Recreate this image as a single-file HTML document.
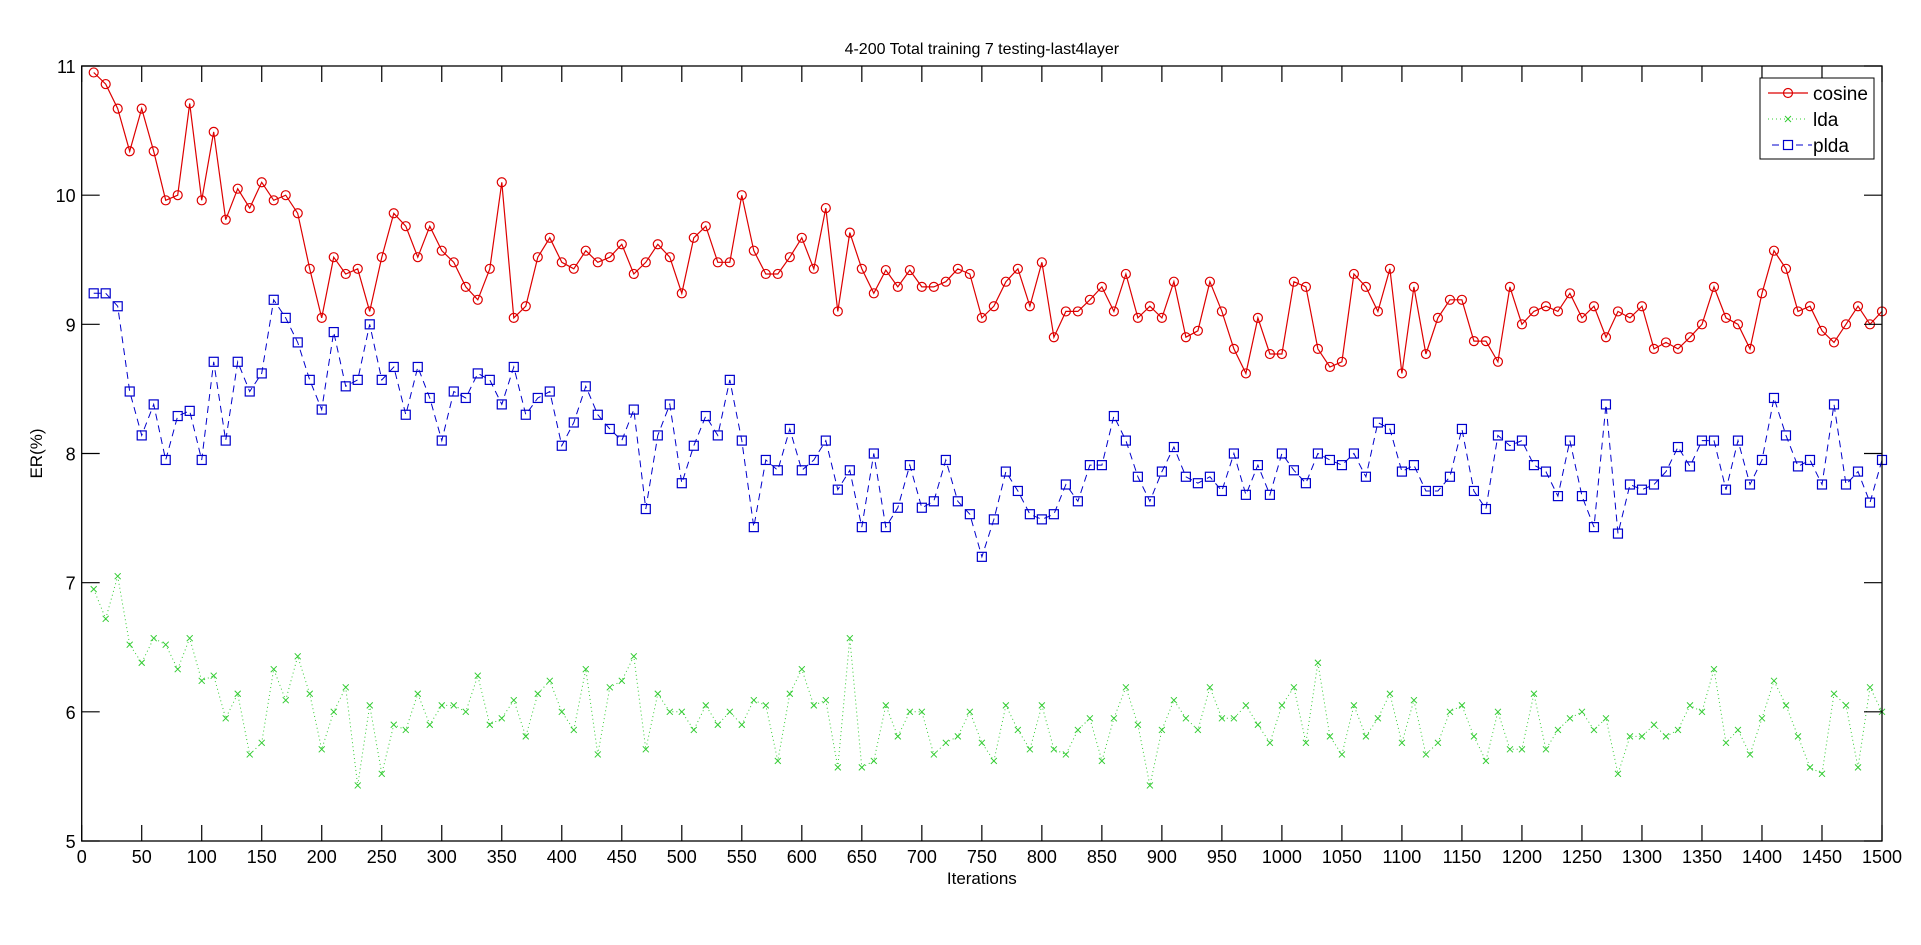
<!DOCTYPE html>
<html><head><meta charset="utf-8"><style>
html,body{margin:0;padding:0;background:#fff;}
svg{display:block;font-family:"Liberation Sans",Arial,sans-serif;}
</style></head><body>
<svg id="s" width="1921" height="945" xmlns="http://www.w3.org/2000/svg"></svg>
<script>
const cos=[10.95,10.86,10.67,10.34,10.67,10.34,9.96,10.0,10.71,9.96,10.49,9.81,10.05,9.9,10.1,9.96,10.0,9.86,9.43,9.05,9.52,9.39,9.43,9.1,9.52,9.86,9.76,9.52,9.76,9.57,
9.48,9.29,9.19,9.43,10.1,9.05,9.14,9.52,9.67,9.48,9.43,9.57,9.48,9.52,9.62,9.39,9.48,9.62,9.52,9.24,9.67,9.76,9.48,9.48,10.0,9.57,9.39,9.39,9.52,9.67,
9.43,9.9,9.1,9.71,9.43,9.24,9.42,9.29,9.42,9.29,9.29,9.33,9.43,9.39,9.05,9.14,9.33,9.43,9.14,9.48,8.9,9.1,9.1,9.19,9.29,9.1,9.39,9.05,9.14,9.05,
9.33,8.9,8.95,9.33,9.1,8.81,8.62,9.05,8.77,8.77,9.33,9.29,8.81,8.67,8.71,9.39,9.29,9.1,9.43,8.62,9.29,8.77,9.05,9.19,9.19,8.87,8.87,8.71,9.29,9.0,
9.1,9.14,9.1,9.24,9.05,9.14,8.9,9.1,9.05,9.14,8.81,8.86,8.81,8.9,9.0,9.29,9.05,9.0,8.81,9.24,9.57,9.43,9.1,9.14,8.95,8.86,9.0,9.14,9.0,9.1];
const plda=[9.24,9.24,9.14,8.48,8.14,8.38,7.95,8.29,8.33,7.95,8.71,8.1,8.71,8.48,8.62,9.19,9.05,8.86,8.57,8.34,8.94,8.52,8.57,9.0,8.57,8.67,8.3,8.67,8.43,8.1,
8.48,8.43,8.62,8.57,8.38,8.67,8.3,8.43,8.48,8.06,8.24,8.52,8.3,8.19,8.1,8.34,7.57,8.14,8.38,7.77,8.06,8.29,8.14,8.57,8.1,7.43,7.95,7.87,8.19,7.87,
7.95,8.1,7.72,7.87,7.43,8.0,7.43,7.58,7.91,7.58,7.63,7.95,7.63,7.53,7.2,7.49,7.86,7.71,7.53,7.49,7.53,7.76,7.63,7.91,7.91,8.29,8.1,7.82,7.63,7.86,
8.05,7.82,7.77,7.82,7.71,8.0,7.68,7.91,7.68,8.0,7.87,7.77,8.0,7.95,7.91,8.0,7.82,8.24,8.19,7.86,7.91,7.71,7.71,7.82,8.19,7.71,7.57,8.14,8.06,8.1,
7.91,7.86,7.67,8.1,7.67,7.43,8.38,7.38,7.76,7.72,7.76,7.86,8.05,7.9,8.1,8.1,7.72,8.1,7.76,7.95,8.43,8.14,7.9,7.95,7.76,8.38,7.76,7.86,7.62,7.95];
const lda=[6.95,6.72,7.05,6.52,6.38,6.57,6.52,6.33,6.57,6.24,6.28,5.95,6.14,5.67,5.76,6.33,6.09,6.43,6.14,5.71,6.0,6.19,5.43,6.05,5.52,5.9,5.86,6.14,5.9,6.05,
6.05,6.0,6.28,5.9,5.95,6.09,5.81,6.14,6.24,6.0,5.86,6.33,5.67,6.19,6.24,6.43,5.71,6.14,6.0,6.0,5.86,6.05,5.9,6.0,5.9,6.09,6.05,5.62,6.14,6.33,
6.05,6.09,5.57,6.57,5.57,5.62,6.05,5.81,6.0,6.0,5.67,5.76,5.81,6.0,5.76,5.62,6.05,5.86,5.71,6.05,5.71,5.67,5.86,5.95,5.62,5.95,6.19,5.9,5.43,5.86,
6.09,5.95,5.86,6.19,5.95,5.95,6.05,5.9,5.76,6.05,6.19,5.76,6.38,5.81,5.67,6.05,5.81,5.95,6.14,5.76,6.09,5.67,5.76,6.0,6.05,5.81,5.62,6.0,5.71,5.71,
6.14,5.71,5.86,5.95,6.0,5.86,5.95,5.52,5.81,5.81,5.9,5.81,5.86,6.05,6.0,6.33,5.76,5.86,5.67,5.95,6.24,6.05,5.81,5.57,5.52,6.14,6.05,5.57,6.19,6.0];
const L=81.7,R=1882,T=66,B=841;
const X=v=>L+(R-L)*v/1500, Y=v=>T+(11-v)*(B-T)/6;
let h='';
// series
function pts(a){return a.map((v,i)=>X(10*(i+1)).toFixed(1)+','+Y(v).toFixed(1)).join(' ');}
h+=`<polyline points="${pts(lda)}" fill="none" stroke="#33cc33" stroke-width="1" stroke-dasharray="1,3"/>`;
lda.forEach((v,i)=>{const x=X(10*(i+1)),y=Y(v);h+=`<path d="M${x-3},${y-3}L${x+3},${y+3}M${x-3},${y+3}L${x+3},${y-3}" stroke="#33cc33" stroke-width="1"/>`;});
h+=`<polyline points="${pts(plda)}" fill="none" stroke="#0000cc" stroke-width="1" stroke-dasharray="7,5"/>`;
plda.forEach((v,i)=>{const x=X(10*(i+1)),y=Y(v);h+=`<rect x="${x-4.5}" y="${y-4.5}" width="9" height="9" fill="none" stroke="#0000cc" stroke-width="1.2"/>`;});
h+=`<polyline points="${pts(cos)}" fill="none" stroke="#dd0000" stroke-width="1.2"/>`;
cos.forEach((v,i)=>{const x=X(10*(i+1)),y=Y(v);h+=`<circle cx="${x}" cy="${y}" r="4.5" fill="none" stroke="#dd0000" stroke-width="1.2"/>`;});
// axes
h+=`<rect x="${L}" y="${T}" width="${R-L}" height="${B-T}" fill="none" stroke="#000" stroke-width="1.3"/>`;
for(let v=0;v<=1500;v+=50){const x=X(v);h+=`<path d="M${x},${B}v-16M${x},${T}v16" stroke="#000" stroke-width="1.2"/>`;
h+=`<text x="${x}" y="${B+22}" font-size="18" text-anchor="middle">${v}</text>`;}
for(let v=5;v<=11;v++){const y=Y(v);h+=`<path d="M${L},${y}h18M${R},${y}h-18" stroke="#000" stroke-width="1.2"/>`;
h+=`<text x="${L-6}" y="${y+7}" font-size="18" text-anchor="end">${v}</text>`;}
h+=`<text x="${(L+R)/2}" y="54" font-size="16" text-anchor="middle">4-200 Total training 7 testing-last4layer</text>`;
h+=`<text x="${(L+R)/2}" y="884" font-size="17" text-anchor="middle">Iterations</text>`;
h+=`<text transform="translate(42,${(T+B)/2}) rotate(-90)" font-size="17" text-anchor="middle">ER(%)</text>`;
// legend
h+=`<rect x="1760" y="78" width="114" height="81" fill="#fff" stroke="#000" stroke-width="1"/>`;
h+=`<path d="M1768,93h40" stroke="#dd0000" stroke-width="1.2"/><circle cx="1788" cy="93" r="4.5" fill="none" stroke="#dd0000" stroke-width="1.2"/>`;
h+=`<path d="M1768,119h40" stroke="#33cc33" stroke-dasharray="1,3"/><path d="M1785,116l6,6M1785,122l6,-6" stroke="#33cc33"/>`;
h+=`<path d="M1772,145h40" stroke="#0000cc" stroke-dasharray="7,5"/><rect x="1783.5" y="140.5" width="9" height="9" fill="#fff" stroke="#0000cc" stroke-width="1.2"/>`;
h+=`<text x="1813" y="100" font-size="19">cosine</text><text x="1813" y="126" font-size="19">lda</text><text x="1813" y="152" font-size="19">plda</text>`;
document.getElementById('s').innerHTML=h;
</script>
</body></html>
